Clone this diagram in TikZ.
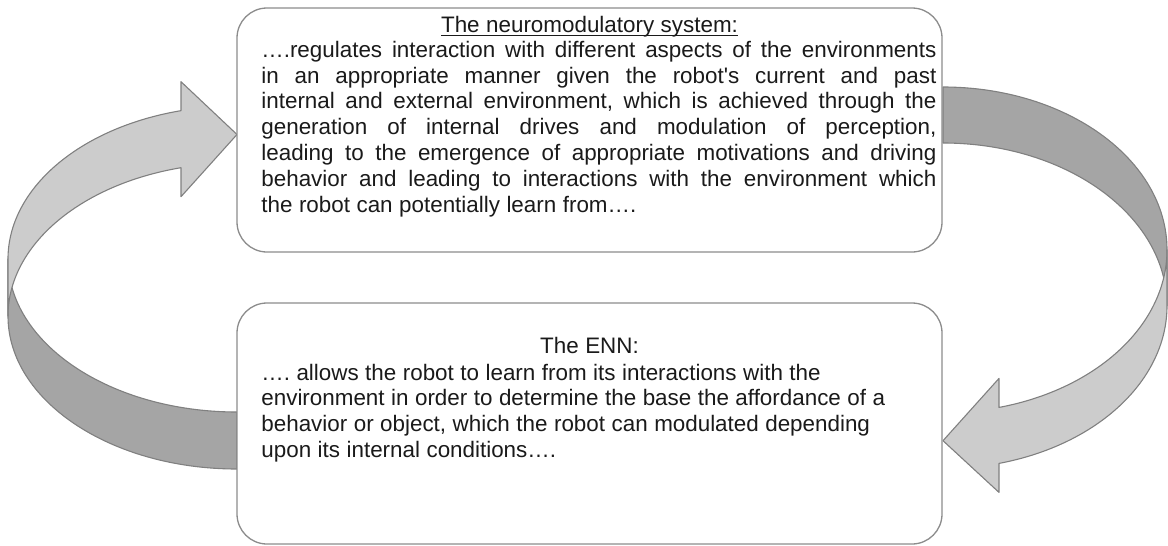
\documentclass[tikz,border=0pt]{standalone}
\usepackage{fontspec}
\setmainfont{Liberation Sans}
\definecolor{boxgray}{HTML}{8C8C8C}
\definecolor{arrowlight}{HTML}{CCCCCC}
\definecolor{arrowdark}{HTML}{A5A5A5}
\definecolor{arrowline}{HTML}{808080}
\definecolor{textcol}{HTML}{1A1A1A}
\newcommand{\wsp}{\spaceskip=3.25pt\relax\xspaceskip=3.25pt\relax}
\newcommand{\jline}[1]{{\spaceskip=3.25pt plus 1fil\relax\xspaceskip=3.25pt plus 1fil\relax\makebox[337.5pt][s]{#1}}}
\begin{document}
\begin{tikzpicture}[x=0.5pt,y=-0.5pt,
  box/.style={draw=boxgray, line width=0.65pt, fill=white, rounded corners=15pt,
              minimum width=352.5pt, inner sep=0pt},
  facelight/.style={fill=arrowlight, draw=arrowline, line width=0.55pt, line join=round},
  facedark/.style={fill=arrowdark, draw=arrowline, line width=0.55pt, line join=round},
  txt/.style={font=\fontsize{11.2}{12.92}\selectfont\frenchspacing, inner sep=0pt, text=textcol},
  ell/.style={x radius=229, y radius=153},
  elr/.style={x radius=224, y radius=162.8}]
\useasboundingbox (0,0) rectangle (1168,546);

% left curved arrow (back face, then front face)
\filldraw[facedark] (8,259) arc[start angle=180, end angle=90, ell]
  -- (237,469) arc[start angle=90, end angle=180, ell] -- cycle;
\filldraw[facelight] (8,259) arc[start angle=180, end angle=255.85, ell]
  -- (181,81.7) -- (237,134.5) -- (181,196.7) -- (181,167.7)
  arc[start angle=255.85, end angle=180, ell] -- cycle;

% right curved arrow (back face, then front face)
\filldraw[facedark] (943,87) arc[start angle=270, end angle=360, elr]
  -- (1167,305.8) arc[start angle=0, end angle=-90, elr] -- cycle;
\filldraw[facelight] (1167,249.8) arc[start angle=0, end angle=75.52, elr]
  -- (999,378.4) -- (943,440.7) -- (999,492.4) -- (999,463.4)
  arc[start angle=75.52, end angle=0, elr] -- cycle;

% boxes
\node[box, minimum height=122pt] (nbox) at (589.5,130) {};
\node[box, minimum height=120.5pt] (ebox) at (589.5,423.5) {};

% texts of the upper box
\node[txt, anchor=base] (ntitle) at (589.5,32.3) {\wsp\underline{\smash{The neuromodulatory system:}}};
\node[txt, anchor=base west, text width=337.5pt] (nbody) at (261,57.3)
  {\wsp\jline{….regulates interaction with different aspects of the environments}\\
   \jline{in an appropriate manner given the robot\textquotesingle s current and past}\\
   \jline{internal and external environment, which is achieved through the}\\
   \jline{generation of internal drives and modulation of perception,}\\
   \jline{leading to the emergence of appropriate motivations and driving}\\
   \jline{behavior and leading to interactions with the environment which}\\
   the robot can potentially learn from….};

% texts of the lower box
\node[txt, anchor=base] (etitle) at (589.5,353.3) {\wsp The ENN:};
\node[txt, anchor=base west, text width=337.5pt] (ebody) at (261,380)
  {\wsp…. allows the robot to learn from its interactions with the\\
   environment in order to determine the base the affordance of a\\
   behavior or object, which the robot can modulated depending\\
   upon its internal conditions….};
\end{tikzpicture}
\end{document}
